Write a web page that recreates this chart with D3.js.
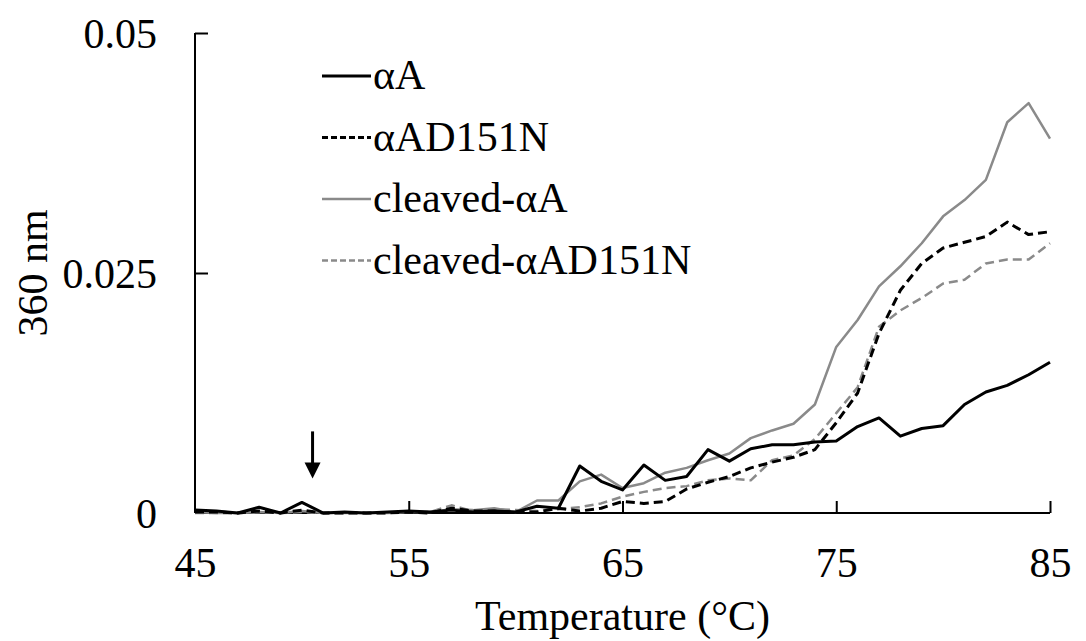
<!DOCTYPE html>
<html>
<head>
<meta charset="utf-8">
<script src="https://cdn.jsdelivr.net/npm/d3@7"></script>
<style>
  body { margin: 0; background: #fff; }
  svg text { font-family: "Liberation Serif", "DejaVu Serif", serif !important; fill: #000; }
</style>
</head>
<body>
<svg></svg>
<script>
/*
*  DATA
*/
let temps = [45, 46, 47, 48, 49, 50, 51, 52, 53, 54, 55, 56, 57, 58, 59, 60, 61, 62, 63, 64, 65,
             66, 67, 68, 69, 70, 71, 72, 73, 74, 75, 76, 77, 78, 79, 80, 81, 82, 83, 84, 85]

let aA = [0.0003, 0.0002, 0.0000, 0.0006, 0.0000, 0.0011, 0.0000, 0.0001, 0.0000, 0.0001, 0.0002,
          0.0001, 0.0003, 0.0001, 0.0002, 0.0001, 0.0007, 0.0005, 0.0049, 0.0033, 0.0024, 0.0050,
          0.0034, 0.0038, 0.0066, 0.0054, 0.0067, 0.0071, 0.0071, 0.0074, 0.0075, 0.0090, 0.0099,
          0.0080, 0.0088, 0.0091, 0.0113, 0.0126, 0.0133, 0.0144, 0.0157]

let aAD151N = [0.0001, 0.0001, 0.0000, 0.0002, 0.0000, 0.0003, 0.0000, 0.0000, 0.0000, 0.0000, 0.0001,
               0.0000, 0.0005, 0.0002, 0.0002, 0.0001, 0.0001, 0.0005, 0.0002, 0.0005, 0.0012, 0.0010,
               0.0012, 0.0025, 0.0032, 0.0038, 0.0047, 0.0053, 0.0058, 0.0066, 0.0094, 0.0125, 0.0187,
               0.0232, 0.0260, 0.0276, 0.0282, 0.0288, 0.0303, 0.0290, 0.0293]

let cleavedA = [0.0001, 0.0000, 0.0000, 0.0001, 0.0000, 0.0002, 0.0000, 0.0000, 0.0000, 0.0000, 0.0001,
                0.0001, 0.0004, 0.0003, 0.0005, 0.0001, 0.0013, 0.0013, 0.0033, 0.0040, 0.0026, 0.0031,
                0.0042, 0.0047, 0.0055, 0.0062, 0.0078, 0.0086, 0.0093, 0.0113, 0.0173, 0.0201, 0.0236,
                0.0257, 0.0281, 0.0309, 0.0326, 0.0347, 0.0407, 0.0427, 0.0390]

let cleavedAD151N = [0.0000, 0.0000, 0.0000, 0.0001, 0.0000, 0.0001, 0.0000, 0.0000, 0.0000, 0.0000, 0.0001,
                     0.0001, 0.0008, 0.0002, 0.0004, 0.0003, 0.0002, 0.0004, 0.0006, 0.0010, 0.0017, 0.0022,
                     0.0026, 0.0028, 0.0034, 0.0036, 0.0034, 0.0055, 0.0060, 0.0077, 0.0104, 0.0131, 0.0194,
                     0.0211, 0.0224, 0.0239, 0.0243, 0.0260, 0.0264, 0.0264, 0.0281]

let seriesNames = ['αA', 'αAD151N', 'cleaved-αA', 'cleaved-αAD151N']
let xTicks = [45, 55, 65, 75, 85]
let yTicks = [0, 0.025, 0.05]
let yTickLabels = ['0', '0.025', '0.05']
// arrow marks the small αA peak
let arrowAt = {t: 50.5, from: 0.0085, to: 0.0036}

/*
*  RUN
*/
let width = 1086,
    height = 641,
    margin = {left: 195, right: 36, top: 33, bottom: 128},
    serif = '"Liberation Serif", "DejaVu Serif", serif'

let svg = d3.select('svg').attr('width', width).attr('height', height)

let styles = [
  {color: '#000', width: 3, dash: null, legendDash: null},
  {color: '#000', width: 3, dash: '9,5', legendDash: '6,3'},
  {color: '#8a8a8a', width: 2.5, dash: null, legendDash: null},
  {color: '#8a8a8a', width: 2.5, dash: '9,5', legendDash: '6,3'}
]

let x = d3.scaleLinear().domain([45, 85]).range([margin.left, width - margin.right])
let y = d3.scaleLinear().domain([0, 0.05]).range([height - margin.bottom, margin.top])

drawAxes()
drawLines()
drawLegend()
drawArrow()

/*
*  HELPERS
*/
function drawAxes(){
  let xAxis = d3.axisBottom(x).tickValues(xTicks).tickSize(-12).tickFormat(d3.format('d'))
  let gx = svg.append('g')
    .attr('transform', `translate(0,${y(0)})`)
    .call(xAxis)
    .attr('font-family', serif)
  gx.select('.domain').attr('d', `M${x(45)},0H${x(85)}`).attr('stroke', '#000').attr('stroke-width', 2)
  gx.selectAll('.tick line').attr('stroke', '#000').attr('stroke-width', 2)
  gx.selectAll('.tick').filter(d => d === 45).select('line').remove()
  gx.selectAll('.tick text')
    .attr('y', 64)
    .attr('dy', 0)
    .attr('font-size', 42)
    .attr('font-family', serif)

  let yAxis = d3.axisLeft(y).tickValues(yTicks).tickSize(-13)
    .tickFormat((d, i) => yTickLabels[i])
  let gy = svg.append('g')
    .attr('transform', `translate(${x(45)},0)`)
    .call(yAxis)
    .attr('font-family', serif)
  gy.select('.domain').attr('d', `M0,${y(0)}V${y(0.05)}`).attr('stroke', '#000').attr('stroke-width', 2)
  gy.selectAll('.tick line').attr('stroke', '#000').attr('stroke-width', 2)
  gy.selectAll('.tick').filter(d => d === 0).select('line').remove()
  gy.selectAll('.tick text')
    .attr('x', -38)
    .attr('dy', '0.34em')
    .attr('font-size', 42)
    .attr('font-family', serif)

  svg.append('text')
    .attr('x', (x(45) + x(85)) / 2)
    .attr('y', 630)
    .attr('text-anchor', 'middle')
    .attr('font-size', 42)
    .attr('font-family', serif)
    .text('Temperature (°C)')

  svg.append('text')
    .attr('transform', `translate(47,${y(0.025)}) rotate(-90)`)
    .attr('text-anchor', 'middle')
    .attr('font-size', 42)
    .attr('font-family', serif)
    .text('360 nm')
}

function drawLines(){
  let all = [aA, aAD151N, cleavedA, cleavedAD151N]
  let line = d3.line()
    .x((d, i) => x(temps[i]))
    .y(d => y(d))
  // draw gray first so black sits on top
  let order = [2, 3, 0, 1]
  order.forEach(k => {
    let s = styles[k]
    svg.append('path')
      .datum(all[k])
      .attr('d', line)
      .attr('fill', 'none')
      .attr('stroke', s.color)
      .attr('stroke-width', s.width)
      .attr('stroke-dasharray', s.dash)
      .attr('stroke-linejoin', 'round')
  })
}

function drawLegend(){
  let lg = svg.append('g').attr('class', 'legend')
  seriesNames.forEach((name, i) => {
    let s = styles[i]
    let by = 89 + i * 61.5
    lg.append('line')
      .attr('x1', 322).attr('x2', 371)
      .attr('y1', by - 13).attr('y2', by - 13)
      .attr('stroke', s.color)
      .attr('stroke-width', s.width)
      .attr('stroke-dasharray', s.legendDash)
    lg.append('text')
      .attr('x', 373)
      .attr('y', by)
      .attr('font-size', 42)
      .attr('font-family', serif)
      .text(name)
  })
}

function drawArrow(){
  let ax = x(arrowAt.t)
  let y0 = y(arrowAt.from),
      y1 = y(arrowAt.to)
  svg.append('line')
    .attr('x1', ax).attr('x2', ax)
    .attr('y1', y0).attr('y2', y1 - 12)
    .attr('stroke', '#000')
    .attr('stroke-width', 3)
  svg.append('path')
    .attr('d', `M${ax - 8},${y1 - 16}L${ax + 8},${y1 - 16}L${ax},${y1}Z`)
    .attr('fill', '#000')
}
</script>
</body>
</html>
